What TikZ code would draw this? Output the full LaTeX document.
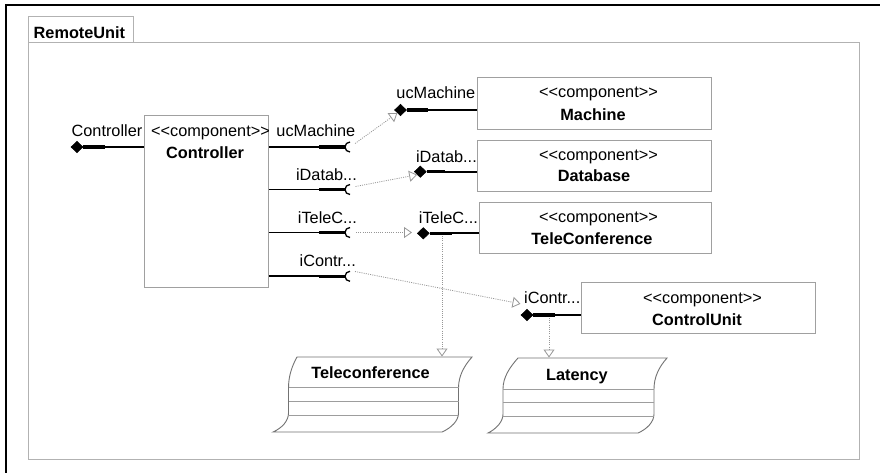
\documentclass[tikz,border=0pt]{standalone}
\usepackage{fontspec}
\setmainfont{Liberation Sans}
\usetikzlibrary{shapes.geometric,arrows.meta}
\definecolor{boxgray}{RGB}{160,160,160}
\definecolor{framegray}{RGB}{178,178,178}
\definecolor{artgray}{RGB}{115,115,115}
\definecolor{depgray}{RGB}{150,150,150}
% stereotype text; the boxes keep << and >> from turning into guillemets
\newcommand\stereo[1]{\mbox{<}\mbox{<}#1\mbox{>}\mbox{>}}
\begin{document}
\begin{tikzpicture}[x=1pt,y=-1pt,
  every node/.style={font=\fontsize{16.3}{19}\selectfont, inner sep=0pt},
  comp/.style={draw=boxgray, line width=1pt, fill=white},
  lbl/.style={anchor=base east},
  txt/.style={anchor=base},
  bold/.style={font=\fontsize{16.3}{19}\selectfont\bfseries},
  portdot/.style={diamond, fill=black, draw=black, line width=0.6pt,
                  minimum width=12pt, minimum height=11.5pt},
  thickseg/.style={line width=3.2pt},
  thinseg/.style={line width=1.7pt},
  sockarc/.style={line width=1.3pt},
  dep/.style={draw=depgray, line width=0.8pt, dash pattern=on 1pt off 1.2pt,
              -{Triangle[open, length=8pt, width=11pt]}},
  art/.style={draw=artgray, line width=0.9pt, fill=white},
  artline/.style={draw=artgray!70, line width=0.8pt}
]
\useasboundingbox (0,0) rectangle (880,472);
\fill[white] (0,0) rectangle (880,472);

% diagram frame
\draw[line width=2pt] (5.5,4.5) rectangle (900,490);

% package RemoteUnit
\draw[framegray, line width=1pt] (28.5,16) rectangle (133,42.7);
\draw[framegray, line width=1pt] (28.5,42.7) rectangle (859.5,459.5);
\node[bold, anchor=base west] (pkg) at (33.5,38) {RemoteUnit};

% ---------- Controller ----------
\node[comp, minimum width=124pt, minimum height=171.6pt] (ctrl) at (206.3,201.5) {};
\node[txt] (ctrlSt) at (210.5,136.5) {\stereo{component}};
\node[txt, bold] (ctrlNm) at (205,158.3) {Controller};

% outer port of Controller
\node[portdot] (pCtrl) at (77,147) {};
\coordinate (kCtrl) at (105,147);
\draw[thickseg] (pCtrl.east) -- (kCtrl);
\draw[thinseg] (kCtrl) -- (ctrl.west |- kCtrl);
\node[lbl] (lCtrl) at (142.5,136.7) {Controller};

% required ports of Controller (sockets)
\foreach \n/\y in {a/147, b/189.5, c/232.5, d/276.3} {
  \coordinate (k\n) at (319,\y);
  \coordinate (s\n) at (345,\y);
  \draw[thinseg] (ctrl.east |- k\n) -- (k\n);
  \draw[thickseg] (k\n) -- (s\n);
  \draw[sockarc] ([shift={(5,-5)}]s\n) arc[start angle=90, end angle=270, radius=5pt];
}
\node[lbl] (la) at (355.5,136.7) {ucMachine};
\node[lbl] (lb) at (357,180) {iDatab...};
\node[lbl] (lc) at (357,223.3) {iTeleC...};
\node[lbl] (ld) at (356,266.7) {iContr...};

% ---------- Machine ----------
\node[comp, minimum width=234pt, minimum height=52pt] (mach) at (594,103) {};
\node[txt] (machSt) at (598.5,97.5) {\stereo{component}};
\node[txt, bold] (machNm) at (593,120) {Machine};
\node[portdot] (dM) at (400.5,110) {};
\coordinate (kM) at (428,110);
\draw[thickseg] (dM.east) -- (kM);
\draw[thinseg] (kM) -- (mach.west |- kM);
\node[lbl] (lM) at (475.5,98.3) {ucMachine};

% ---------- Database ----------
\node[comp, minimum width=234pt, minimum height=51pt] (db) at (594,165.5) {};
\node[txt] (dbSt) at (598.5,160) {\stereo{component}};
\node[txt, bold] (dbNm) at (594,181.7) {Database};
\node[portdot] (dD) at (420.3,171.7) {};
\coordinate (kD) at (445,171.7);
\draw[thickseg] (dD.east) -- (kD);
\draw[thinseg] (kD) -- (db.west |- kD);
\node[lbl] (lD) at (477,162.3) {iDatab...};

% ---------- TeleConference ----------
\node[comp, minimum width=232pt, minimum height=51pt] (tc) at (595,227.8) {};
\node[txt] (tcSt) at (598.5,222.7) {\stereo{component}};
\node[txt, bold] (tcNm) at (592,244) {TeleConference};
\node[portdot] (dT) at (423.3,233.3) {};
\coordinate (kT) at (451.7,233.3);
\draw[thickseg] (dT.east) -- (kT);
\draw[thinseg] (kT) -- (tc.west |- kT);
\node[lbl] (lT) at (478,223.3) {iTeleC...};

% ---------- ControlUnit ----------
\node[comp, minimum width=234pt, minimum height=51.3pt] (cu) at (698,308.3) {};
\node[txt] (cuSt) at (702.5,303.3) {\stereo{component}};
\node[txt, bold] (cuNm) at (697,325) {ControlUnit};
\node[portdot] (dC) at (527,315) {};
\coordinate (kC) at (555,315);
\draw[thickseg] (dC.east) -- (kC);
\draw[thinseg] (kC) -- (cu.west |- kC);
\node[lbl] (lC) at (580.5,303.3) {iContr...};

% ---------- information items ----------
% Teleconference
\draw[art] (297,357) -- (472,357)
  .. controls (464,366) and (458.5,376) .. (458.5,388) -- (458.5,413)
  .. controls (458.5,421) and (451,428) .. (442,432) -- (273,432)
  .. controls (282,428) and (288.5,421) .. (288.5,413) -- (288.5,388)
  .. controls (288.5,376) and (292,366) .. (297,357) -- cycle;
\foreach \y in {387.7, 401, 415} \draw[artline] (288.5,\y) -- (459,\y);
\node[txt, bold] (tcArt) at (370.5,378.3) {Teleconference};
\coordinate (tcArtTop) at (442,356.5);

% Latency
\draw[art] (518,358) -- (667,358)
  .. controls (659,367) and (654,377) .. (654,389) -- (654,414)
  .. controls (654,422) and (647,429) .. (638,433) -- (488,433)
  .. controls (496,429) and (503,422) .. (503,414) -- (503,389)
  .. controls (503,377) and (510,367) .. (518,358) -- cycle;
\foreach \y in {389.3, 402.7, 416} \draw[artline] (503,\y) -- (654,\y);
\node[txt, bold] (latArt) at (577,380) {Latency};
\coordinate (latArtTop) at (549,357.5);

% ---------- dependencies ----------
\coordinate (oa) at (355,143.5);
\coordinate (ob) at (355.5,186.5);
\coordinate (oc) at (356,232.5);
\coordinate (od) at (355,271.5);
\coordinate (iT) at (412,232.5);
\coordinate (iC) at (520.5,303.8);
\coordinate (vT) at (442,236);
\coordinate (vC) at (549,318);
\draw[dep] (oa) -- (dM.south west);
\draw[dep] (ob) -- (dD.south west);
\draw[dep] (oc) -- (iT);
\draw[dep] (od) -- (iC);
\draw[dep] (vT) -- (tcArtTop);
\draw[dep] (vC) -- (latArtTop);
\end{tikzpicture}
\end{document}
